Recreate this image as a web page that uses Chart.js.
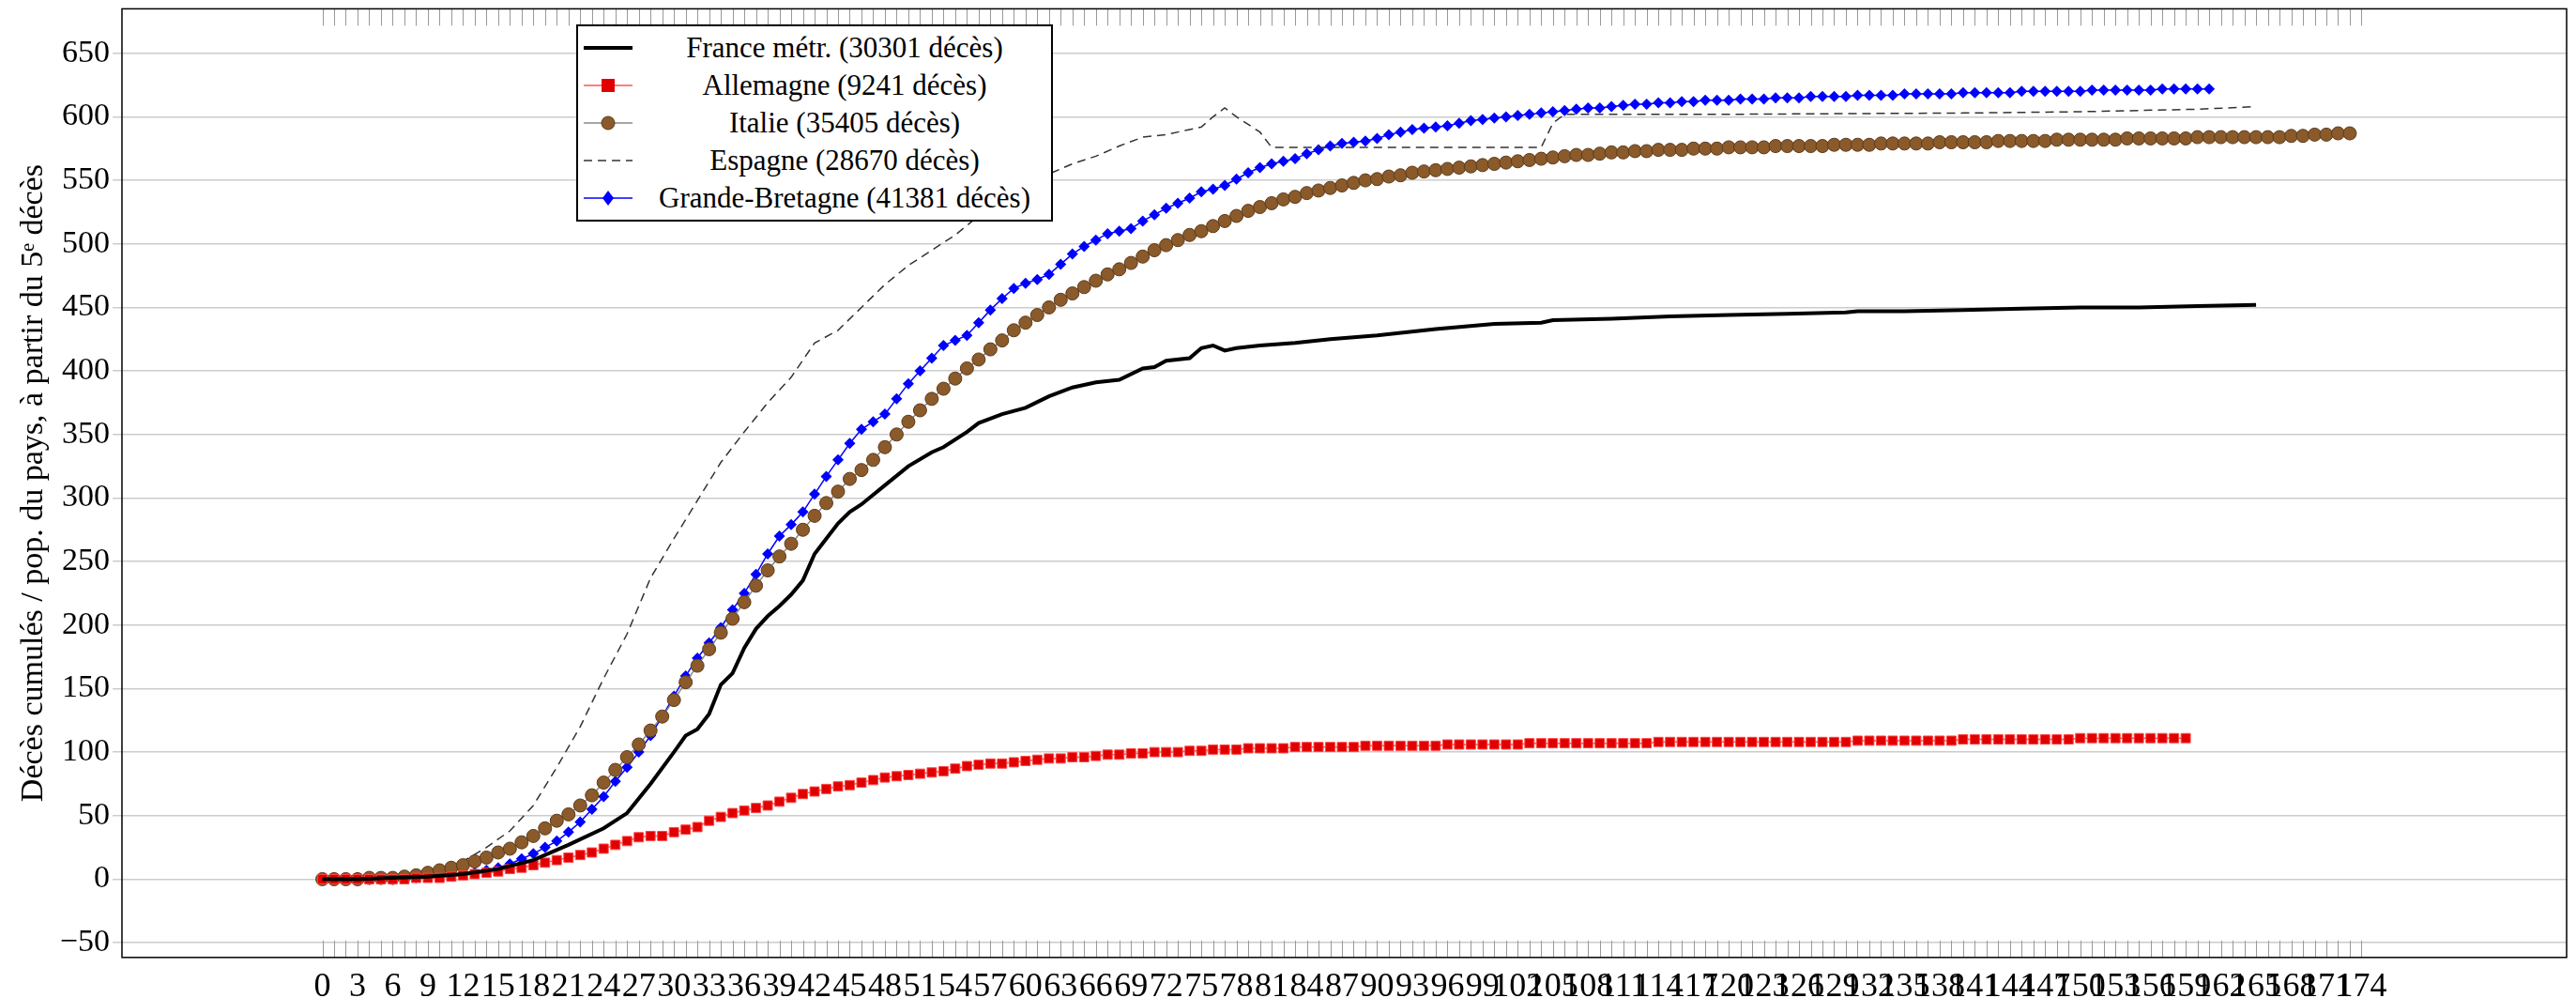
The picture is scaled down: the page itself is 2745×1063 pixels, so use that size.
<!DOCTYPE html>
<html><head><meta charset="utf-8">
<script src="https://cdn.jsdelivr.net/npm/chart.js@4"></script>
<style>
body{margin:0;background:#fff;width:2745px;height:1063px;overflow:hidden;font-family:"Liberation Serif","DejaVu Serif",serif}
#wrap{position:absolute;left:0;top:-14px;width:2745px;height:1089px}
#leg{position:absolute;left:614px;top:26px;width:504px;border:2px solid #000;background:#fff;font-size:31px;padding:3px 0}
.r{display:flex;align-items:center;height:40px}
.r svg{width:64px;height:30px;flex:none}
.r span{flex:1;text-align:center;white-space:nowrap}
</style></head><body>
<div id="wrap"><canvas id="c" width="2745" height="1089"></canvas></div>
<div id="leg">
<div class="r"><svg viewBox="0 0 64 30"><line x1="6" y1="15" x2="58" y2="15" stroke="#000" stroke-width="4"/></svg><span>France métr. (30301 décès)</span></div>
<div class="r"><svg viewBox="0 0 64 30"><line x1="6" y1="15" x2="58" y2="15" stroke="#f55" stroke-width="1.5"/><rect x="25" y="8" width="14" height="14" fill="#e00000"/></svg><span>Allemagne (9241 décès)</span></div>
<div class="r"><svg viewBox="0 0 64 30"><line x1="6" y1="15" x2="58" y2="15" stroke="#888" stroke-width="1.5"/><circle cx="32" cy="15" r="7" fill="#8b5a2b" stroke="#5a3a1a"/></svg><span>Italie (35405 décès)</span></div>
<div class="r"><svg viewBox="0 0 64 30"><line x1="6" y1="15" x2="58" y2="15" stroke="#333" stroke-width="1.5" stroke-dasharray="9,6"/></svg><span>Espagne (28670 décès)</span></div>
<div class="r"><svg viewBox="0 0 64 30"><line x1="6" y1="15" x2="58" y2="15" stroke="#00f" stroke-width="1.5"/><polygon points="32,7 38,15 32,23 26,15" fill="#00f"/></svg><span>Grande-Bretagne (41381 décès)</span></div>
</div>
<script>
const franceDays=[0,3,6,9,12,15,18,21,24,26,28,30,31,32,33,34,35,36,37,38,39,40,41,42,43,44,45,46,48,50,52,53,55,56,58,60,62,64,66,68,70,71,72,74,75,76,77,78,80,83,86,90,95,100,104,105,110,115,120,125,130,131,135,140,145,150,155,160,165];
const franceVals=[0,0,1,2,4,8,15,27,40,52,75,100,113,118,130,153,162,182,197,207,215,224,235,256,268,280,289,295,310,325,336,340,352,359,366,371,380,387,391,393,402,403,408,410,418,420,416,418,420,422,425,428,433,437,438,440,441,443,444,445,446,447,447,448,449,450,450,451,452];
const spainDays=[0,5,8,10,12,14,16,18,20,22,24,26,28,30,32,34,36,38,40,42,44,46,48,50,52,54,56,58,60,62,64,66,68,70,72,74,75,76,77,78,80,81,90,100,104,105,106,120,140,150,160,165];
const spainVals=[0,1,3,8,14,25,38,58,88,120,158,193,237,268,298,328,352,375,395,422,432,450,468,483,495,507,522,535,546,555,563,569,577,584,586,590,592,600,607,600,588,576,576,576,576,595,602,602,603,604,606,608];
const germany=[0,0,0,0,0,0,0,0,1,1,1,2,3,4,5,6,8,9,11,13,15,17,19,21,24,27,30,33,34,34,37,39,41,46,49,52,54,56,58,61,64,67,69,71,73,74,76,78,80,81,82,83,84,85,87,89,90,91,91,92,93,94,95,95,96,96,97,98,98,99,99,100,100,100,101,101,102,102,102,103,103,103,103,104,104,104,104,104,104,105,105,105,105,105,105,105,106,106,106,106,106,106,106,107,107,107,107,107,107,107,107,107,107,107,108,108,108,108,108,108,108,108,108,108,108,108,108,108,108,108,108,109,109,109,109,109,109,109,109,109,110,110,110,110,110,110,110,110,110,110,111,111,111,111,111,111,111,111,111,111];
const italy=[0,0,0,0,1,1,1,2,3,5,7,9,11,14,17,21,24,29,34,40,46,51,58,66,76,86,96,106,117,128,141,155,168,181,194,205,218,231,243,254,264,275,286,296,305,315,322,330,340,350,360,369,378,386,394,402,409,417,424,432,438,444,450,456,461,466,471,476,480,485,490,495,499,503,507,510,514,518,522,526,529,532,535,537,540,542,544,546,548,550,551,553,554,556,557,558,559,560,561,562,563,564,565,566,567,568,569,570,570,571,572,572,573,573,574,574,574,575,575,575,576,576,576,576,577,577,577,577,577,578,578,578,578,579,579,579,579,579,580,580,580,580,580,581,581,581,581,581,582,582,582,582,582,582,583,583,583,583,583,583,584,584,584,584,584,584,584,584,585,585,586,586,587,587];
const uk=[0,0,0,0,0,0,0,1,1,2,2,3,4,5,7,9,12,16,20,25,30,37,45,55,65,77,88,100,113,128,144,160,174,186,198,212,225,240,256,270,279,289,303,317,330,343,354,360,366,378,390,400,410,420,424,428,438,448,457,465,469,472,476,484,492,498,503,508,510,512,518,523,528,532,536,541,543,546,551,556,560,563,565,567,571,574,577,579,580,581,583,586,588,590,591,592,593,595,597,598,599,600,601,602,603,604,605,606,607,607,608,609,610,610,611,611,612,612,613,613,613,614,614,614,615,615,615,616,616,616,616,617,617,617,617,618,618,618,618,618,619,619,619,619,619,620,620,620,620,620,620,621,621,621,621,621,621,622,622,622,622,622];
const xTickMax=174;
const pts=a=>a.map((v,i)=>({x:i,y:v}));
const pair=(d,v)=>d.map((x,i)=>({x,y:v[i]}));
const minor={id:'minor',afterDatasetsDraw(ch){const c=ch.ctx,x=ch.scales.x,a=ch.chartArea;c.save();c.strokeStyle='#999';c.lineWidth=1;c.beginPath();for(let i=0;i<=xTickMax;i++){const p=Math.round(x.getPixelForValue(i))+.5;c.moveTo(p,a.bottom);c.lineTo(p,a.bottom-18);c.moveTo(p,a.top);c.lineTo(p,a.top+18);}c.stroke();c.strokeStyle='#000';c.lineWidth=1.5;c.strokeRect(a.left,a.top,a.right-a.left,a.bottom-a.top);c.restore();}};
new Chart(document.getElementById('c'),{type:'line',
data:{datasets:[
{label:'France',data:pair(franceDays,franceVals),borderColor:'#000',borderWidth:4,pointRadius:0,tension:0},
{label:'Allemagne',data:pts(germany),borderColor:'#f55',backgroundColor:'#e00000',borderWidth:1.5,pointStyle:'rect',pointRadius:7,pointBorderColor:'#f44',pointBorderWidth:1},
{label:'Italie',data:pts(italy),borderColor:'#888',backgroundColor:'#8b5a2b',borderWidth:1.5,pointStyle:'circle',pointRadius:7,pointBorderColor:'#5a3a1a',pointBorderWidth:1},
{label:'Espagne',data:pair(spainDays,spainVals),borderColor:'#333',borderWidth:1.5,borderDash:[9,6],pointRadius:0},
{label:'UK',data:pts(uk),borderColor:'#00f',backgroundColor:'#00f',borderWidth:1.5,pointStyle:'rectRot',pointRadius:6,pointBorderWidth:0}
]},
options:{responsive:false,animation:false,
layout:{padding:{left:12,right:10,top:0,bottom:0}},
plugins:{legend:{display:false},tooltip:{enabled:false}},
scales:{
x:{type:'linear',min:-17.1,max:191.5,afterBuildTicks(s){const t=[];for(let i=0;i<=xTickMax;i+=3)t.push({value:i});s.ticks=t;},
ticks:{autoSkip:false,maxRotation:0,color:'#000',font:{family:'Liberation Serif',size:36},padding:2},grid:{display:false},border:{display:false}},
y:{min:-61.6,max:685,afterBuildTicks(s){const t=[];for(let v=-50;v<=650;v+=50)t.push({value:v});s.ticks=t;},
ticks:{color:'#000',font:{family:'Liberation Serif',size:34},callback:v=>v<0?'\u2212'+(-v):v},
grid:{color:'#ccc',lineWidth:1.5,tickLength:10},border:{display:false},
title:{display:true,text:'Décès cumulés / pop. du pays, à partir du 5ᵉ décès',color:'#000',font:{family:'Liberation Serif',size:34},padding:4}}
}},plugins:[minor]});
</script></body></html>
